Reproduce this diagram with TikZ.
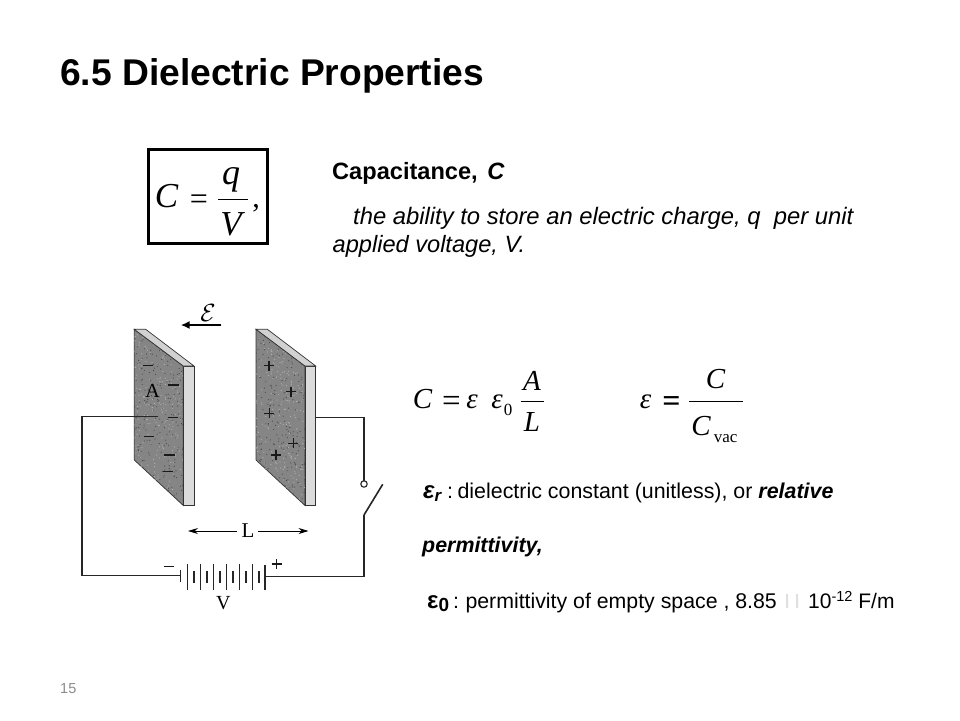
\documentclass[tikz,border=0pt]{standalone}
\usepackage{fontspec}
\usetikzlibrary{arrows.meta}
\setmainfont{Liberation Sans}
\newfontfamily\serifrm{Liberation Serif}
\begin{document}
\begin{tikzpicture}[x=1pt,y=-1pt,
  txt/.style={inner sep=0pt,anchor=base west,font=\fontsize{#1}{#1}\selectfont},
  eq/.style={inner sep=0pt,anchor=base,font=\serifrm\fontsize{#1}{#1}\selectfont\itshape},
  eqrm/.style={inner sep=0pt,anchor=base,font=\serifrm\fontsize{#1}{#1}\selectfont},
  wire/.style={draw=black!85,line width=1.1pt},
  batt/.style={draw=black!85,line width=1pt},
  chg/.style={line width=1.5pt,draw=black!90},
  sym/.style={inner sep=0pt,font=\serifrm\fontsize{#1}{#1}\selectfont}]
\useasboundingbox (0,0) rectangle (960,720);
\fill[white] (0,0) rectangle (960,720);
\node[txt=37.2] (title) at (60,85) {\bfseries 6.5 Dielectric Properties};
\node[txt=14.5] (pageno) at (60,693) {\textcolor{black!45}{15}};
% boxed formula
\draw[line width=3pt] (148.8,149.8) rectangle (267,243.5);
\node[eq=35] (c1) at (166.5,207.5) {C};
\node[eqrm=32] (eq1) at (199,209.5) {=};
\node[eq=36] (q1) at (231,184) {q};
\draw[line width=1.1pt] (218,199.3) -- (248,199.3);
\node[eq=35] (v1) at (231,235) {V};
\node[eqrm=30] (comma) at (256,207) {,};
% capacitance text
\node[txt=23.6] (cap) at (332,179.5) {\bfseries Capacitance,\hspace{3pt} \itshape C};
\node[txt=23.8] (abil) at (353,224) {\itshape the ability to store an electric charge, q\ \ per unit};
\node[txt=23.6] (appl) at (332.5,252) {\itshape applied voltage, V.};
% plates
\definecolor{plategray}{gray}{0.52}
\definecolor{sidegray}{gray}{0.86}
\definecolor{topgray}{gray}{0.82}
\pgfmathsetseed{42}
\foreach \dx/\nm in {0/L,121.7/R}{
  \begin{scope}[xshift=\dx pt]
  \filldraw[fill=plategray,draw=black!80,line width=0.7pt] (134.3,329.3) -- (183.3,366) -- (183.3,505.5) -- (134.3,460) -- cycle;
  \begin{scope}
    \clip (134.3,329.3) -- (183.3,366) -- (183.3,505.5) -- (134.3,460) -- cycle;
    \foreach \i in {1,...,260}{
      \pgfmathsetmacro{\px}{134+50*rnd}
      \pgfmathsetmacro{\py}{330+175*rnd}
      \fill[black!30] (\px,\py) circle (0.6pt);
      \pgfmathsetmacro{\qx}{134+50*rnd}
      \pgfmathsetmacro{\qy}{330+175*rnd}
      \fill[black!70] (\qx,\qy) circle (0.6pt);}
  \end{scope}
  \filldraw[fill=sidegray,draw=black!80,line width=0.7pt] (183.3,366) -- (194,366) -- (194,505.5) -- (183.3,505.5) -- cycle;
  \filldraw[fill=topgray,draw=black!80,line width=0.7pt] (134.3,329.3) -- (145.7,329.3) -- (194,366) -- (183.3,366) -- cycle;
  \end{scope}}
% charges
\foreach \x/\y in {148/365.7,173.3/385,172.7/417.7,149/436.7,169.3/455,167.7/471.7}
  \draw[chg] (\x-5.2,\y) -- (\x+5.2,\y);
\foreach \x/\y in {269/365.7,291/391.7,269.3/413.3,293.3/443.3,276/455}{
  \draw[chg] (\x-5,\y) -- (\x+5,\y);
  \draw[chg] (\x,\y-5) -- (\x,\y+5);}
\node[sym=20] (A) at (152.5,390.5) {A};
% field arrow
\node[sym=24] (E) at (208,312.5) {$\mathcal{E}$};
\coordinate (e1) at (221.3,325);
\coordinate (e2) at (180.7,325);
\draw[-{Latex[length=9pt,width=8pt]},line width=1.6pt] (e1) -- (e2);
% wires
\coordinate (wl0) at (158.3,416.7);
\coordinate (wl1) at (82,416.7);
\coordinate (wl2) at (82,575.7);
\coordinate (bl) at (180.7,575.7);
\coordinate (br) at (265,576.7);
\coordinate (wr0) at (315,417.7);
\coordinate (wr1) at (364,417.7);
\coordinate (wr2) at (364,481);
\coordinate (sw0) at (364,515);
\coordinate (sw1) at (382.7,484.3);
\coordinate (wr3) at (364,576.7);
\draw[wire] (wl0) -- (wl1) -- (wl2) -- (bl);
\draw[wire] (wr0) -- (wr1) -- (wr2);
\draw[wire,fill=white] (364,484) circle (3.2pt);
\draw[wire,line width=1.6pt] (sw0) -- (sw1);
\draw[wire] (sw0) -- (wr3) -- (br);
% battery
\draw[batt,line width=1.4pt] (180.7,570) -- (180.7,582);
\foreach \x in {187,200.3,213,226,239,252}
  \draw[batt] (\x,563.5) -- (\x,590);
\draw[batt,line width=1.4pt] (265,565) -- (265,590);
\foreach \x in {194,207,220,233,246,258.7}
  \draw[batt,line width=1.8pt] (\x,571) -- (\x,583);
\draw[chg] (164,566.7) -- (174,566.7);
\draw[chg] (271.7,564) -- (281.7,564);
\draw[chg] (276.7,559) -- (276.7,569);
\node[sym=21] (Lab) at (248,530.5) {L};
\node[sym=20] (Vab) at (223.3,603) {V};
\coordinate (la) at (188,531);
\coordinate (lb) at (308.5,531);
\draw[-{Stealth[length=10pt,width=6pt]},line width=.8pt] (237,531) -- (la);
\draw[-{Stealth[length=10pt,width=6pt]},line width=.8pt] (258,531) -- (lb);
% equations
\node[eq=29] (c2) at (422.5,408) {C};
\node[eqrm=33] (eq2) at (451.5,411) {=};
\node[eq=29] (e3) at (472,408) {ε};
\node[eq=29] (e4) at (497,408) {ε};
\node[eqrm=17] (zero) at (508,415) {0};
\node[eq=29] (a2) at (532,390) {A};
\draw[line width=.8pt] (520.7,401.3) -- (544,401.3);
\node[eq=29] (l2) at (532,431.7) {L};
\node[eq=29] (e5) at (645.5,408) {ε};
\node[eqrm=30,font=\serifrm\bfseries\fontsize{32}{32}\selectfont] (eq3) at (671.5,411.5) {=};
\node[eq=29] (c3) at (715.5,388.3) {C};
\draw[line width=.8pt] (689,401.3) -- (743,401.3);
\node[eq=29] (c4) at (701,435) {C};
\node[eqrm=17] (vac) at (725.7,442.7) {vac};
% definitions
\node[txt=24] (er) at (423,498) {\bfseries\itshape ε\raisebox{-3pt}{\fontsize{17}{17}\selectfont r}};
\node[txt=21.4] (ert) at (447,498) {:\hspace{-3.5pt} dielectric constant (unitless), or {\bfseries\itshape relative}};
\node[txt=21.4] (perm) at (422,552) {\bfseries\itshape permittivity,};
\node[txt=24] (e0) at (427,608) {\bfseries ε\raisebox{-3pt}{\fontsize{19}{19}\selectfont 0}};
\node[txt=21.3] (e0t) at (453,608) {:\hspace{-1.5pt} permittivity of empty space , 8.85};
\fill[black!12] (786,594) rectangle (788,608) (796,594) rectangle (798,608);
\node[txt=21] (ten) at (808,608) {10\raisebox{7pt}{\fontsize{14.5}{14.5}\selectfont -12} F/m};
\end{tikzpicture}
\end{document}
